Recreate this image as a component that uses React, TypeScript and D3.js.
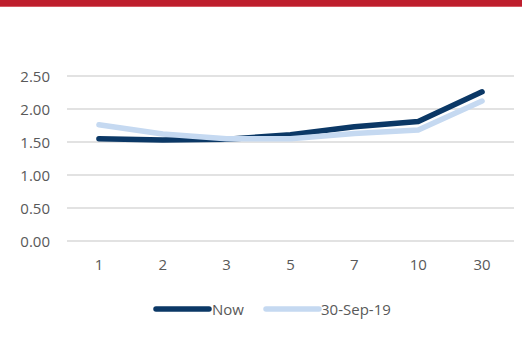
import React from "react";
import * as d3 from "d3";

const categories = ["1", "2", "3", "5", "7", "10", "30"];
const nowValues = [1.55, 1.53, 1.54, 1.61, 1.73, 1.81, 2.26];
const sep19Values = [1.76, 1.62, 1.55, 1.55, 1.63, 1.68, 2.12];
const yTicks = [0, 0.5, 1, 1.5, 2, 2.5];

const seriesList = [
  { name: "Now", values: nowValues, color: "#0B3866" },
  { name: "30-Sep-19", values: sep19Values, color: "#C5D9F1" },
];

const W = 522;
const H = 346;
const plot = { left: 67, right: 514, top: 76, bottom: 241 };
const font = "'Open Sans', sans-serif";
const textColor = "#595959";

export default function App() {
  const x = d3
    .scaleBand<string>()
    .domain(categories)
    .range([plot.left, plot.right]);
  const y = d3.scaleLinear().domain([0, 2.5]).range([plot.bottom, plot.top]);
  const line = d3
    .line<number>()
    .x((_, i) => (x(categories[i]) as number) + x.bandwidth() / 2)
    .y((d) => y(d));

  const legend = [
    { x0: 156, x1: 209, tx: 212 },
    { x0: 266, x1: 319, tx: 321 },
  ];

  return (
    <svg
      width={W}
      height={H}
      style={{ position: "absolute", left: 0, top: 0, background: "#fff" }}
    >
      <rect x={0} y={0} width={W} height={6} fill="#BE1E2D" />
      <rect x={0} y={6} width={W} height={1} fill="#D65A64" />
      {yTicks.map((t) => (
        <g key={t}>
          <line
            x1={plot.left}
            x2={plot.right}
            y1={y(t)}
            y2={y(t)}
            stroke="#D9D9D9"
            strokeWidth={1.3}
          />
          <text
            x={50}
            y={y(t)}
            textAnchor="end"
            dominantBaseline="central"
            fontFamily={font}
            fontSize={15}
            fill={textColor}
          >
            {t.toFixed(2)}
          </text>
        </g>
      ))}
      {categories.map((c) => (
        <text
          key={c}
          x={(x(c) as number) + x.bandwidth() / 2}
          y={264}
          textAnchor="middle"
          dominantBaseline="central"
          fontFamily={font}
          fontSize={15}
          fill={textColor}
        >
          {c}
        </text>
      ))}
      {seriesList.map((s) => (
        <path
          key={s.name}
          d={line(s.values) || ""}
          fill="none"
          stroke={s.color}
          strokeWidth={5.5}
          strokeLinecap="round"
          strokeLinejoin="round"
        />
      ))}
      {seriesList.map((s, i) => (
        <g key={s.name}>
          <line
            x1={legend[i].x0}
            x2={legend[i].x1}
            y1={309}
            y2={309}
            stroke={s.color}
            strokeWidth={5.5}
            strokeLinecap="round"
          />
          <text
            x={legend[i].tx}
            y={309}
            dominantBaseline="central"
            fontFamily={font}
            fontSize={15}
            fill={textColor}
          >
            {s.name}
          </text>
        </g>
      ))}
    </svg>
  );
}
